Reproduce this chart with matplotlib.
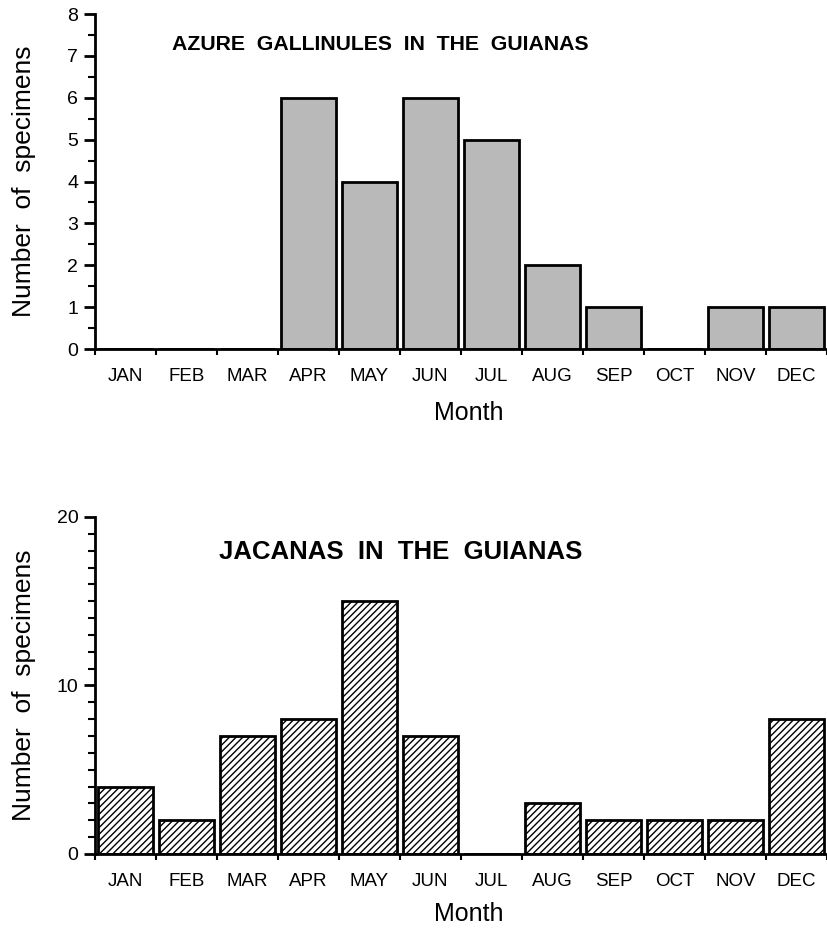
import numpy as np
import matplotlib.pyplot as plt
from matplotlib.ticker import MultipleLocator

plt.rcParams["font.family"] = ["Liberation Sans", "DejaVu Sans"]
plt.rcParams["hatch.linewidth"] = 1.0

months = ["JAN", "FEB", "MAR", "APR", "MAY", "JUN",
          "JUL", "AUG", "SEP", "OCT", "NOV", "DEC"]
gallinules = [0, 0, 0, 6, 4, 6, 5, 2, 1, 0, 1, 1]
jacanas = [4, 2, 7, 8, 15, 7, 0, 3, 2, 2, 2, 8]

fig = plt.figure(figsize=(8.28, 9.34), dpi=100)
ax1 = fig.add_axes([0.1147, 0.6263, 0.884, 0.3587])
ax2 = fig.add_axes([0.1147, 0.0857, 0.884, 0.3608])

x = np.arange(len(months))


def style(ax, ymax, major, minor, xlabel_y):
    ax.set_xlim(-0.5, 11.5)
    ax.set_ylim(0, ymax)
    for s in ["top", "right"]:
        ax.spines[s].set_visible(False)
    ax.spines["left"].set_linewidth(2)
    ax.spines["bottom"].set_linewidth(2)
    ax.yaxis.set_major_locator(MultipleLocator(major))
    ax.yaxis.set_minor_locator(MultipleLocator(minor))
    ax.tick_params(axis="y", which="major", length=8, width=2, labelsize=14, pad=4)
    ax.tick_params(axis="y", which="minor", length=5, width=1.5)
    ax.set_xticks(x)
    ax.set_xticklabels(months, fontsize=13.5)
    ax.tick_params(axis="x", which="major", length=0, pad=14)
    ax.set_xticks(np.arange(-0.5, 12, 1), minor=True)
    ax.tick_params(axis="x", which="minor", length=4, width=1.5)
    ax.set_xlabel("Month", fontsize=18)
    ax.xaxis.set_label_coords(0.51, xlabel_y)
    ax.yaxis.set_label_coords(-0.08, 0.5)
    ax.set_ylabel("Number  of  specimens", fontsize=19)


ax1.bar(x, gallinules, width=0.91, color="#b9b9b9", edgecolor="black", linewidth=2)
style(ax1, 8, 1, 0.5, -0.155)
ax1.text(0.39, 0.91, "AZURE  GALLINULES  IN  THE  GUIANAS", transform=ax1.transAxes,
         ha="center", va="center", fontsize=15.3, fontweight="bold")

ax2.bar(x, jacanas, width=0.91, color="white", edgecolor="black", linewidth=2,
        hatch="/////")
style(ax2, 20, 10, 1, -0.143)
ax2.text(0.4175, 0.895, "JACANAS  IN  THE  GUIANAS", transform=ax2.transAxes,
         ha="center", va="center", fontsize=18.5, fontweight="bold")

fig.savefig("out.png", dpi=100)
